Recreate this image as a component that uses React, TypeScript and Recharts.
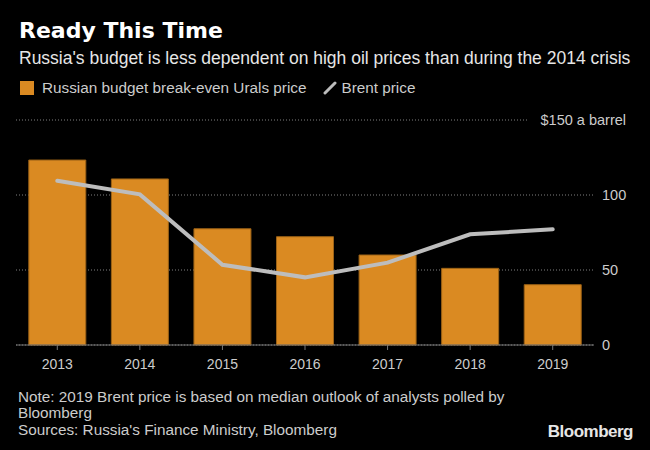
import { ComposedChart, Bar, Line, XAxis, YAxis, CartesianGrid } from 'recharts';

const years = ['2013', '2014', '2015', '2016', '2017', '2018', '2019'];
const breakEven = [123.3, 110.7, 77.5, 72.2, 60, 51.1, 40.2];
const brent = [109.5, 100.4, 53.5, 45.1, 54.9, 73.8, 77.1];
const yTicks = [0, 50, 100, 150];

const data = years.map((year, i) => ({ year, breakEven: breakEven[i], brent: brent[i] }));

const FONT = '"Liberation Sans", Arial, sans-serif';
const ORANGE = '#DA8A22';
const GREY_LINE = '#BDBDBD';
const TEXT = '#CCCCCC';

// right-hand value labels; the top one carries the unit and hides the end of its gridline
const RightTick = (props: any) => {
  const { x, y, payload } = props;
  if (payload.value === 150) {
    return (
      <g>
        <rect x={x - 75} y={y - 10} width={110} height={20} fill="#000" />
        <text x={x + 24} y={y} dy="0.35em" textAnchor="end" fill={TEXT} fontSize={14.5} fontFamily={FONT}>
          $150 a barrel
        </text>
      </g>
    );
  }
  return (
    <text x={x} y={y} dy="0.35em" textAnchor="start" fill={TEXT} fontSize={14.5} fontFamily={FONT}>
      {payload.value}
    </text>
  );
};

const App = () => {
  return (
    <div style={{ position: 'absolute', left: 0, top: 0, width: 650, height: 450, background: '#000', overflow: 'hidden' }}>
      <div style={{ position: 'absolute', left: 19, top: 18, fontFamily: '"DejaVu Sans", sans-serif', fontWeight: 'bold', fontSize: 22, color: '#fff', whiteSpace: 'nowrap' }}>
        Ready This Time
      </div>
      <div style={{ position: 'absolute', left: 19, top: 47.5, fontFamily: FONT, fontSize: 17.5, color: '#E6E6E6', whiteSpace: 'nowrap' }}>
        Russia's budget is less dependent on high oil prices than during the 2014 crisis
      </div>
      <div style={{ position: 'absolute', left: 20, top: 78.5, display: 'flex', alignItems: 'center', fontFamily: FONT, fontSize: 15.3, color: TEXT, whiteSpace: 'nowrap' }}>
        <span style={{ display: 'inline-block', width: 14, height: 14, background: ORANGE, marginRight: 8 }} />
        <span>Russian budget break-even Urals price</span>
        <svg width={14} height={14} style={{ marginLeft: 17, marginRight: 4 }}>
          <line x1={2} y1={12} x2={12} y2={2} stroke={GREY_LINE} strokeWidth={3} strokeLinecap="round" />
        </svg>
        <span>Brent price</span>
      </div>
      <ComposedChart
        width={650}
        height={450}
        data={data}
        margin={{ top: 120, right: 0, bottom: 65, left: 16 }}
        barCategoryGap="15.5%"
      >
        <CartesianGrid vertical={false} stroke="#808080" strokeDasharray="1 2" />
        <XAxis
          dataKey="year"
          axisLine={{ stroke: '#777' }}
          tickLine={{ stroke: '#777' }}
          tickSize={5}
          tickMargin={9}
          tick={{ fill: TEXT, fontSize: 14, fontFamily: FONT }}
          height={40}
        />
        <YAxis
          orientation="right"
          domain={[0, 150]}
          ticks={yTicks}
          axisLine={false}
          tickLine={false}
          tickSize={0}
          tickMargin={8}
          width={56}
          tick={<RightTick />}
        />
        <Bar dataKey="breakEven" fill={ORANGE} stroke="#9C6216" strokeWidth={1} isAnimationActive={false} />
        <Line
          dataKey="brent"
          type="linear"
          stroke={GREY_LINE}
          strokeWidth={4}
          strokeLinecap="round"
          dot={false}
          activeDot={false}
          isAnimationActive={false}
        />
      </ComposedChart>
      <div style={{ position: 'absolute', left: 18, top: 388.5, fontFamily: FONT, fontSize: 15.3, color: TEXT, lineHeight: '16.5px', whiteSpace: 'nowrap' }}>
        Note: 2019 Brent price is based on median outlook of analysts polled by
        <br />
        Bloomberg
        <br />
        Sources: Russia's Finance Ministry, Bloomberg
      </div>
      <div style={{ position: 'absolute', right: 17, top: 422, fontFamily: FONT, fontWeight: 'bold', fontSize: 17, color: '#E6E6E6', letterSpacing: -0.5 }}>
        Bloomberg
      </div>
    </div>
  );
};

export default App;
